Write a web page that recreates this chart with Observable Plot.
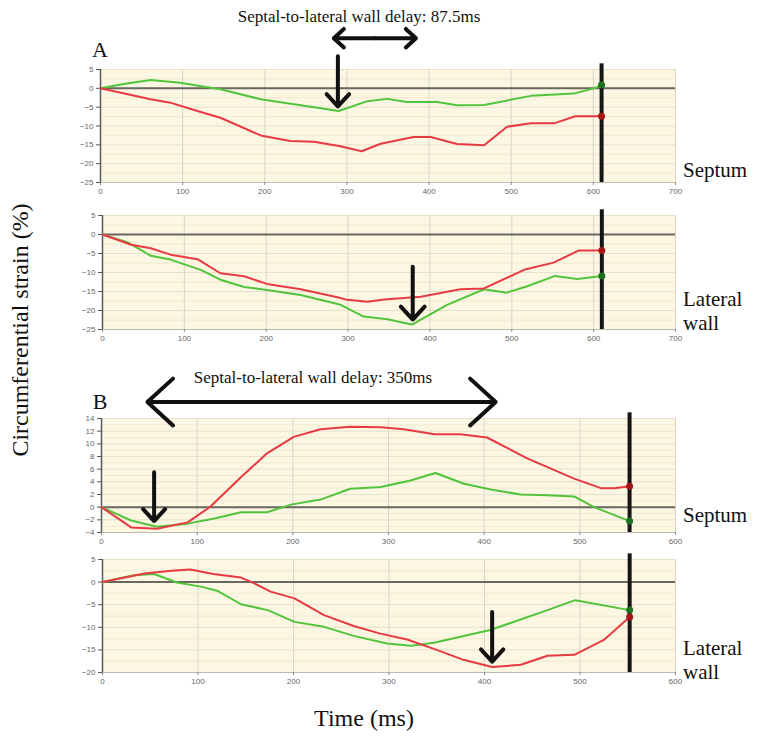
<!DOCTYPE html>
<html><head><meta charset="utf-8">
<script src="https://cdn.jsdelivr.net/npm/d3@7"></script>
<script src="https://cdn.jsdelivr.net/npm/@observablehq/plot@0.6"></script>
<style>
body{margin:0;background:#fff;}
#root{position:relative;width:764px;height:744px;font-family:"Liberation Serif","DejaVu Serif",serif;color:#111;overflow:hidden;}
.abs{position:absolute;white-space:nowrap;}
.side{font-size:21px;line-height:24px;}
.ttl{font-size:17px;}
.big{font-size:24px;}
.pl{font-size:22px;}
</style></head><body><div id="root"></div>
<script>
// ---------- Panel A, septum ----------
const aSepGreenT = [0, 30, 61, 97, 130, 145, 195, 256, 290, 325, 349, 373, 410, 434, 467, 524, 576, 601, 610];
const aSepGreenV = [0, 1.2, 2.2, 1.5, 0.3, -0.2, -2.9, -4.9, -6.0, -3.4, -2.8, -3.6, -3.6, -4.5, -4.4, -2.0, -1.4, 0, 0.9];
const aSepRedT = [0, 61, 85, 118, 146, 195, 231, 260, 292, 318, 341, 381, 402, 434, 467, 495, 524, 552, 578, 610];
const aSepRedV = [0, -2.9, -3.8, -6.0, -7.8, -12.5, -14.0, -14.2, -15.4, -16.7, -14.7, -12.9, -12.9, -14.8, -15.1, -10.2, -9.3, -9.3, -7.4, -7.4];
// ---------- Panel A, lateral wall ----------
const aLatRedT = [0, 35, 59, 83, 116, 144, 173, 201, 242, 287, 299, 324, 344, 389, 437, 466, 515, 551, 582, 610];
const aLatRedV = [0, -2.7, -3.6, -5.3, -6.5, -10.2, -11.0, -13.0, -14.4, -16.5, -17.2, -17.7, -17.1, -16.4, -14.4, -14.2, -9.3, -7.4, -4.2, -4.2];
const aLatGreenT = [0, 31, 59, 83, 120, 144, 173, 201, 242, 291, 319, 348, 378, 421, 466, 494, 518, 553, 580, 610];
const aLatGreenV = [0, -2.1, -5.6, -6.6, -9.3, -11.9, -13.8, -14.6, -15.9, -18.5, -21.6, -22.3, -23.7, -18.5, -14.4, -15.3, -13.7, -10.9, -11.7, -10.9];
// ---------- Panel B, septum ----------
const bSepRedT = [0, 31, 58, 90, 114, 146, 173, 201, 229, 260, 292, 316, 348, 375, 403, 445, 494, 522, 536, 552];
const bSepRedV = [0, -3.2, -3.4, -2.4, 0.1, 4.75, 8.5, 11.1, 12.3, 12.7, 12.6, 12.3, 11.5, 11.5, 11.0, 7.7, 4.5, 3.0, 3.0, 3.3];
const bSepGreenT = [0, 31, 58, 90, 118, 146, 173, 198, 229, 260, 292, 323, 349, 379, 407, 438, 466, 494, 515, 552];
const bSepGreenV = [0, -2.1, -3.1, -2.6, -1.8, -0.8, -0.8, 0.4, 1.2, 2.9, 3.2, 4.2, 5.4, 3.7, 2.8, 2.0, 1.9, 1.7, 0, -2.2];
// ---------- Panel B, lateral wall ----------
const bLatRedT = [0, 44, 72, 92, 116, 145, 159, 176, 201, 232, 263, 291, 319, 350, 378, 408, 438, 466, 494, 525, 552];
const bLatRedV = [0, 1.9, 2.5, 2.8, 1.8, 1.0, -0.3, -2.1, -3.6, -7.3, -9.7, -11.4, -12.7, -15.0, -17.2, -18.8, -18.3, -16.3, -16.1, -12.8, -7.7];
const bLatGreenT = [0, 33, 54, 78, 103, 120, 145, 173, 201, 232, 263, 298, 323, 347, 406, 466, 495, 552];
const bLatGreenV = [0, 1.5, 1.8, -0.1, -1.0, -1.9, -4.9, -6.2, -8.8, -9.9, -11.9, -13.6, -14.1, -13.4, -10.6, -6.2, -4.0, -6.2];

// ---------- ticks ----------
const xTicksA = [0, 100, 200, 300, 400, 500, 600, 700];
const xTicksB = [0, 100, 200, 300, 400, 500, 600];
const yTicksA = [5, 0, -5, -10, -15, -20, -25];
const yTicksBSep = [14, 12, 10, 8, 6, 4, 2, 0, -2, -4];
const yTicksBLat = [5, 0, -5, -10, -15, -20];

// ---------- markers (end-systole cursor) and annotation arrows ----------
const cursorA = [610];
const cursorB = [552];
// arrows: [x1, y1, x2, y2] in data units
const arrowsASep = [[289, 8.5, 289, -4.8], [334, 13.3, 284, 13.3], [334, 13.3, 384, 13.3]];
const arrowsALat = [[379, -8.5, 379, -22.4]];
const arrowsBSep = [[55, 5.5, 55, -2.2], [230, 16.6, 48, 16.6], [230, 16.6, 412, 16.6]];
const arrowsBLat = [[408, -6.6, 408, -17.6]];

const RED = "#e83a42", GREEN = "#52c43c", DRED = "#a81515", DGREEN = "#1d701d";
const root = document.getElementById("root");

function series(T, V) { return T.map((t, i) => ({t, v: V[i]})); }

function panel(o) {
  const g = series(o.gT, o.gV), r = series(o.rT, o.rV);
  const arrows = o.arrows.map(a => ({x1: a[0], y1: a[1], x2: a[2], y2: a[3]}));
  const [ylo, yhi] = o.yDomain;
  const halfY = [];
  for (let i = 0; i < o.yTicks.length - 1; i++) halfY.push((o.yTicks[i] + o.yTicks[i + 1]) / 2);
  const chart = Plot.plot({
    width: o.width, height: o.height,
    marginTop: o.mt, marginBottom: o.mb, marginLeft: o.ml, marginRight: o.mr,
    x: {domain: o.xDomain, label: null},
    y: {domain: o.yDomain, label: null},
    style: {background: "transparent", overflow: "visible", fontFamily: "'Liberation Sans', Arial, sans-serif"},
    marks: [
      Plot.frame({fill: "#fcf7e2", stroke: "#e6e2d4"}),
      Plot.gridY(halfY, {stroke: "#f2ead0", strokeOpacity: 1}),
      Plot.gridX(o.xTicks, {stroke: "#d9d5c8", strokeOpacity: 1}),
      Plot.gridY(o.yTicks, {stroke: "#e6e0cc", strokeOpacity: 1}),
      Plot.ruleY([0], {stroke: "#6a6660", strokeWidth: 2}),
      Plot.ruleX([o.xDomain[0]], {stroke: "#5a5a5a", strokeWidth: 1.5}),
      Plot.ruleY([ylo], {stroke: "#bdbab0", strokeWidth: 1}),
      Plot.axisX(o.xTicks, {tickSize: 3, tickPadding: 3, fontSize: 8, fill: "#666", stroke: "#888"}),
      Plot.axisY(o.yTicks, {tickSize: 4, tickPadding: 3, fontSize: 8, fill: "#666", stroke: "#555"}),
      Plot.line(g, {x: "t", y: "v", stroke: GREEN, strokeWidth: 2}),
      Plot.line(r, {x: "t", y: "v", stroke: RED, strokeWidth: 2}),
      Plot.ruleX(o.cursor, {x: d => d, y1: () => ylo, y2: () => yhi + (yhi - ylo) * 0.05, stroke: "#151515", strokeWidth: 4}),
      Plot.dot([g[g.length - 1]], {x: "t", y: "v", r: 3.5, fill: DGREEN}),
      Plot.dot([r[r.length - 1]], {x: "t", y: "v", r: 3.5, fill: DRED}),
      Plot.arrow(arrows, {x1: "x1", y1: "y1", x2: "x2", y2: "y2", stroke: "#111", strokeWidth: 4, headLength: 13, headAngle: 85})
    ]
  });
  chart.style.position = "absolute";
  chart.style.left = o.left + "px";
  chart.style.top = o.top + "px";
  root.appendChild(chart);
}

panel({left: 60, top: 0, width: 704, height: 200, mt: 69, mb: 18, ml: 40, mr: 89,
  xDomain: [0, 700], xTicks: xTicksA, yDomain: [-25, 5], yTicks: yTicksA,
  gT: aSepGreenT, gV: aSepGreenV, rT: aSepRedT, rV: aSepRedV, cursor: cursorA, arrows: arrowsASep});
panel({left: 60, top: 200, width: 704, height: 147, mt: 15, mb: 18, ml: 42, mr: 89,
  xDomain: [0, 700], xTicks: xTicksA, yDomain: [-25, 5], yTicks: yTicksA,
  gT: aLatGreenT, gV: aLatGreenV, rT: aLatRedT, rV: aLatRedV, cursor: cursorA, arrows: arrowsALat});
panel({left: 60, top: 360, width: 704, height: 190, mt: 58, mb: 18, ml: 41, mr: 89,
  xDomain: [0, 600], xTicks: xTicksB, yDomain: [-4, 14], yTicks: yTicksBSep,
  gT: bSepGreenT, gV: bSepGreenV, rT: bSepRedT, rV: bSepRedV, cursor: cursorB, arrows: arrowsBSep});
panel({left: 60, top: 550, width: 704, height: 140, mt: 9, mb: 18, ml: 42, mr: 89,
  xDomain: [0, 600], xTicks: xTicksB, yDomain: [-20, 5], yTicks: yTicksBLat,
  gT: bLatGreenT, gV: bLatGreenV, rT: bLatRedT, rV: bLatRedV, cursor: cursorB, arrows: arrowsBLat});

function label(text, cls, left, top, extra) {
  const d = document.createElement("div");
  d.className = "abs " + cls;
  d.innerHTML = text;
  d.style.left = left + "px";
  d.style.top = top + "px";
  if (extra) Object.assign(d.style, extra);
  root.appendChild(d);
}
label("Septal-to-lateral wall delay: 87.5ms", "ttl", 359, 17, {transform: "translate(-50%,-50%)"});
label("Septal-to-lateral wall delay: 350ms", "ttl", 313, 378, {transform: "translate(-50%,-50%)"});
label("A", "pl", 100, 50, {transform: "translate(-50%,-50%)"});
label("B", "pl", 100, 402, {transform: "translate(-50%,-50%)"});
label("Septum", "side", 683, 170, {transform: "translateY(-50%)"});
label("Lateral<br>wall", "side", 683, 311, {transform: "translateY(-50%)"});
label("Septum", "side", 683, 515, {transform: "translateY(-50%)"});
label("Lateral<br>wall", "side", 683, 660, {transform: "translateY(-50%)"});
label("Circumferential strain (%)", "big", 20, 330, {transform: "translate(-50%,-50%) rotate(-90deg)"});
label("Time (ms)", "big", 364, 718, {transform: "translate(-50%,-50%)"});
</script></body></html>
